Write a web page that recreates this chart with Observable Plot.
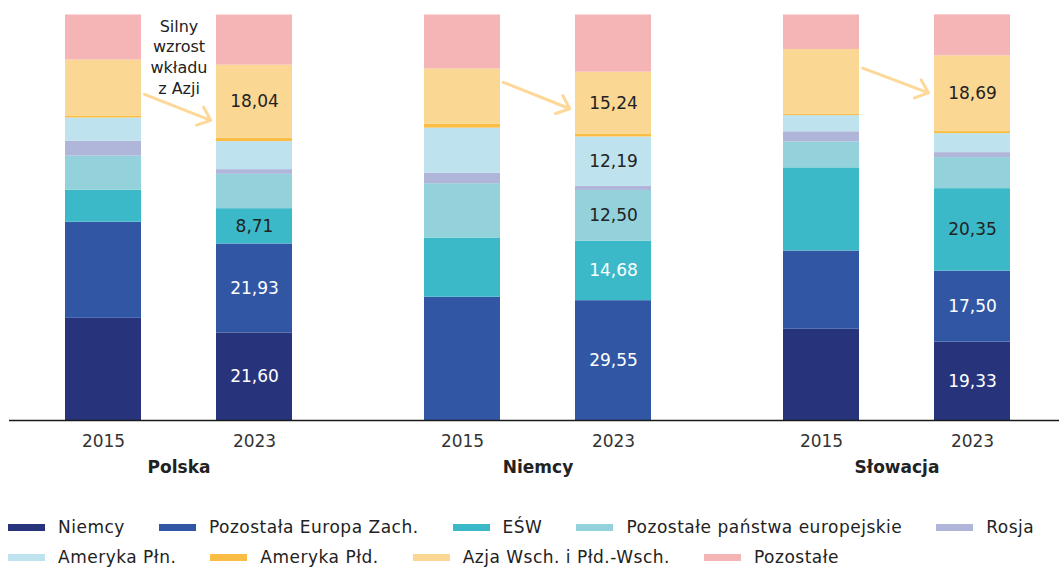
<!DOCTYPE html>
<html><head><meta charset="utf-8">
<script src="https://cdn.jsdelivr.net/npm/d3@7"></script>
<script src="https://cdn.jsdelivr.net/npm/@observablehq/plot@0.6"></script>
<style>
body{margin:0;background:#fff;font-family:"DejaVu Sans",sans-serif;}
#legend{margin-top:27px;padding-left:8px;font-size:17px;color:#222;letter-spacing:0.5px;}
.lrow{display:flex;height:30px;align-items:center;white-space:nowrap;}
.litem{display:flex;align-items:center;margin-right:34px;}
.lsw{width:37px;height:7px;margin-right:13px;}
</style></head><body><div id="chart"></div><script>
const countries = ["Polska", "Niemcy", "Słowacja"];
const years = ["2015", "2023"];
const categories = ["Niemcy", "Pozostała Europa Zach.", "EŚW", "Pozostałe państwa europejskie", "Rosja", "Ameryka Płn.", "Ameryka Płd.", "Azja Wsch. i Płd.-Wsch.", "Pozostałe"];
const colors = ["#27347b", "#3157a4", "#3cb9c9", "#93d1db", "#b0b6da", "#bfe3ee", "#fbbd43", "#fbd794", "#f5b4b6"];

// shares (%) by category, in the order of `categories`
const polska2015   = [25.2, 23.7, 7.9, 8.4, 3.7, 5.7, 0.5, 13.8, 11.1];
const polska2023   = [21.60, 21.93, 8.71, 8.47, 1.16, 6.91, 0.81, 18.04, 12.35];
const niemcy2015   = [0, 30.4, 14.6, 13.4, 2.6, 11.1, 1.0, 13.6, 13.3];
const niemcy2023   = [0, 29.55, 14.68, 12.50, 1.0, 12.19, 0.74, 15.24, 14.1];
const slowacja2015 = [22.5, 19.3, 20.5, 6.4, 2.5, 4.0, 0.3, 16.0, 8.5];
const slowacja2023 = [19.33, 17.50, 20.35, 7.65, 1.23, 4.69, 0.5, 18.69, 10.1];

// printed values (2023 bars)
const labelledPolska = ["Niemcy", "Pozostała Europa Zach.", "EŚW", "Azja Wsch. i Płd.-Wsch."];
const labelledNiemcy = ["Pozostała Europa Zach.", "EŚW", "Pozostałe państwa europejskie", "Ameryka Płn.", "Azja Wsch. i Płd.-Wsch."];
const labelledSlowacja = ["Niemcy", "Pozostała Europa Zach.", "EŚW", "Azja Wsch. i Płd.-Wsch."];

// annotation arrows (from 2015 to 2023, in % of bar height)
const arrowFrom = [84.4, 87.4, 90.7];
const arrowTo = [69.8, 72.6, 76.7];
const annotation = "Silny\nwzrost\nwkładu\nz Azji";

const series = {
  "Polska": {"2015": polska2015, "2023": polska2023, labels: labelledPolska},
  "Niemcy": {"2015": niemcy2015, "2023": niemcy2023, labels: labelledNiemcy},
  "Słowacja": {"2015": slowacja2015, "2023": slowacja2023, labels: labelledSlowacja}
};
const data = [];
for (const c of countries) for (const y of years) categories.forEach((cat, i) => {
  data.push({country: c, year: y, category: cat, value: series[c][y][i],
    label: y === "2023" && series[c].labels.includes(cat) ? series[c][y][i] : null});
});
const arrows = countries.map((c, i) => ({country: c, from: years[0], to: years[1], y1: arrowFrom[i], y2: arrowTo[i]}));

// label colour styling
const whiteLabels = new Set(["Polska|Niemcy", "Polska|Pozostała Europa Zach.", "Niemcy|Pozostała Europa Zach.", "Niemcy|EŚW", "Słowacja|Niemcy", "Słowacja|Pozostała Europa Zach."]);
const fmt = v => d3.format(".2f")(v).replace(".", ",");

const chart = Plot.plot({
  width: 1059,
  height: 485,
  marginTop: 14.5,
  marginBottom: 65,
  marginLeft: 16,
  marginRight: 0,
  style: {fontFamily: "DejaVu Sans", fontSize: "17px", color: "#222", background: "#fff"},
  fx: {domain: countries, paddingInner: 0.1, paddingOuter: 0, label: null},
  x: {domain: years, paddingInner: 0.4934, paddingOuter: 0.3115, label: null},
  y: {domain: [0, 100], axis: null},
  color: {domain: categories, range: colors},
  marks: [
    Plot.barY(data, {fx: "country", x: "year", y: "value", fill: "category", z: "category"}),
    Plot.text(data, Plot.stackY({fx: "country", x: "year", y: "value", z: "category",
      text: d => d.label == null ? null : fmt(d.label),
      fill: d => whiteLabels.has(d.country + "|" + d.category) ? "#fff" : "#222",
      fontSize: 17})),
    Plot.arrow(arrows, {fx: "country", x1: "from", x2: "to", y1: "y1", y2: "y2",
      stroke: "#fdd898", strokeWidth: 3, headLength: 7.5, headAngle: 80, insetStart: 44, insetEnd: 47}),
    Plot.text([{country: "Polska", text: annotation}], {fx: "country", text: "text", frameAnchor: "top",
      lineAnchor: "top", dy: 2, fontSize: 16, lineHeight: 1.29, fill: "#222"}),
    Plot.ruleY(countries.slice(0, 1), {fx: d => d, y: () => 0, stroke: "#1a1a1a", strokeWidth: 1.5, insetLeft: -8, insetRight: -18}),
    Plot.ruleY(countries.slice(1), {fx: d => d, y: () => 0, stroke: "#1a1a1a", strokeWidth: 1.5, insetLeft: -18, insetRight: -18}),
    Plot.axisX({tickSize: 0, tickPadding: 14, fontSize: 17, fill: "#333", label: null}),
    Plot.axisFx({anchor: "bottom", tickSize: 0, tickPadding: 40, fontSize: 17, fontWeight: "bold", fill: "#222", label: null})
  ]
});
document.getElementById("chart").appendChild(chart);

const legend = document.createElement("div");
legend.id = "legend";
[categories.slice(0, 5), categories.slice(5)].forEach(row => {
  const r = document.createElement("div");
  r.className = "lrow";
  row.forEach(cat => {
    const it = document.createElement("div");
    it.className = "litem";
    const sw = document.createElement("span");
    sw.className = "lsw";
    sw.style.background = colors[categories.indexOf(cat)];
    const t = document.createElement("span");
    t.textContent = cat;
    it.appendChild(sw); it.appendChild(t);
    r.appendChild(it);
  });
  legend.appendChild(r);
});
document.getElementById("chart").appendChild(legend);
</script></body></html>
